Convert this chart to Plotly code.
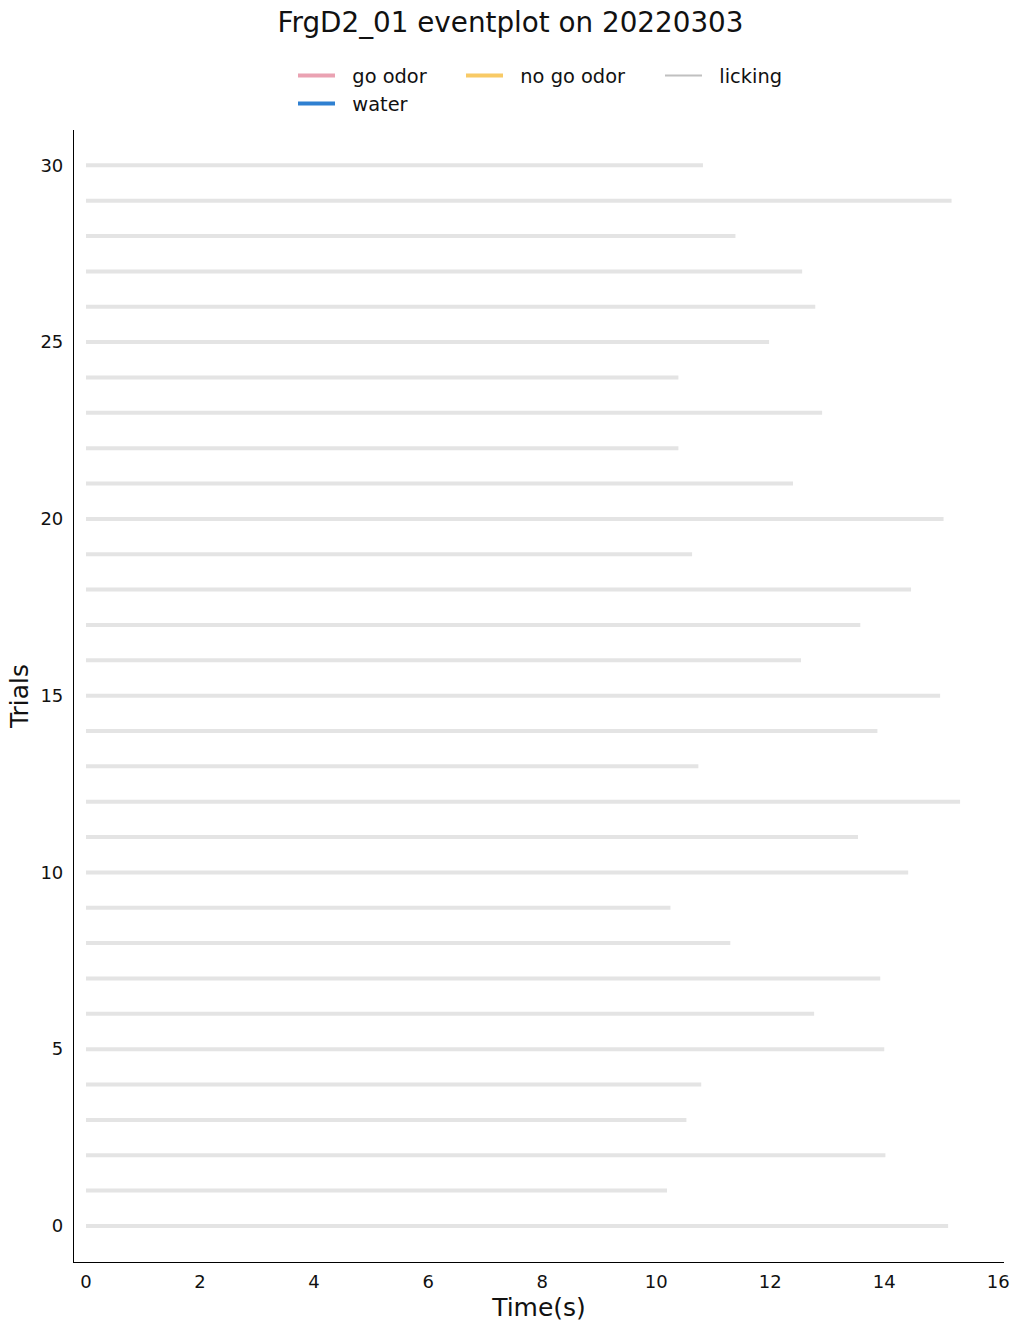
import plotly.graph_objects as go

# Data: trial index and end time (s) of licking line for each trial
trials = list(range(31))
lick_end = [15.12, 10.19, 14.02, 10.53, 10.79, 14.00, 12.77, 13.93, 11.30, 10.25,
            14.42, 13.54, 15.33, 10.74, 13.88, 14.98, 12.54, 13.58, 14.47, 10.63,
            15.04, 12.40, 10.39, 12.91, 10.39, 11.98, 12.79, 12.56, 11.39, 15.18,
            10.82]
lick_start = [0.0] * len(trials)

x_ticks = [0, 2, 4, 6, 8, 10, 12, 14, 16]
y_ticks = [0, 5, 10, 15, 20, 25, 30]

FONT = "DejaVu Sans"
C_GO = "#eaa2b2"
C_WATER = "#2f80d1"
C_NOGO = "#f8ca66"
C_LICK_LEG = "#c0c0c0"
C_LICK = "#e4e4e4"

xs, ys = [], []
for t, s, e in zip(trials, lick_start, lick_end):
    xs += [s, e, None]
    ys += [t, t, None]

PAD = "\u00a0\u00a0"

fig = go.Figure()
fig.add_trace(go.Scatter(x=xs, y=ys, mode="lines", line=dict(color=C_LICK, width=4),
                         showlegend=False, hoverinfo="skip"))

# legend entries
fig.add_trace(go.Scatter(x=[None], y=[None], mode="lines", name=PAD + "go odor",
                         line=dict(color=C_GO, width=4), legend="legend"))
fig.add_trace(go.Scatter(x=[None], y=[None], mode="lines", name=PAD + "water",
                         line=dict(color=C_WATER, width=4), legend="legend4"))
fig.add_trace(go.Scatter(x=[None], y=[None], mode="lines", name=PAD + "no go odor",
                         line=dict(color=C_NOGO, width=4), legend="legend2"))
fig.add_trace(go.Scatter(x=[None], y=[None], mode="lines", name=PAD + "licking",
                         line=dict(color=C_LICK_LEG, width=2), legend="legend3"))

W, H = 1021, 1330
L, R, T, B = 74, 17, 130, 68
pw = W - L - R
ph = H - T - B

def px_x(p):
    return (p - L) / pw

def px_y(p):
    return 1 + (T - p) / ph

leg_common = dict(font=dict(family=FONT, size=19.4, color="#111"), bgcolor="rgba(0,0,0,0)",
                  xanchor="left", yanchor="middle", orientation="v", itemwidth=37)

fig.update_layout(
    width=W, height=H,
    margin=dict(l=L, r=R, t=T, b=B, autoexpand=False),
    paper_bgcolor="white", plot_bgcolor="white",
    font=dict(family=FONT, color="#111"),
    title=dict(text="FrgD2_01 eventplot on 20220303", x=0.5, xanchor="center",
               y=1 - 22 / H, yanchor="middle", yref="container",
               font=dict(family=FONT, size=27.8, color="#111")),
    legend=dict(x=px_x(293), y=px_y(76), **leg_common),
    legend2=dict(x=px_x(461), y=px_y(76), **leg_common),
    legend3=dict(x=px_x(660), y=px_y(76), **leg_common),
    legend4=dict(x=px_x(293), y=px_y(104), **leg_common),
    xaxis=dict(range=[-0.21, 16.1], tickvals=x_ticks, ticktext=[str(v) for v in x_ticks],
               showgrid=False, zeroline=False, showline=True, linecolor="black", linewidth=1.2,
               automargin=False,
               ticks="", ticklabelstandoff=3, tickfont=dict(family=FONT, size=18, color="#111"),
               title=dict(text="Time(s)", font=dict(family=FONT, size=25, color="#111"), standoff=7)),
    yaxis=dict(range=[-1.02, 31.0], tickvals=y_ticks, ticktext=[str(v) for v in y_ticks],
               showgrid=False, zeroline=False, showline=True, linecolor="black", linewidth=1.2,
               automargin=False,
               ticks="", ticklabelstandoff=6, tickfont=dict(family=FONT, size=18, color="#111"),
               title=dict(text="Trials", font=dict(family=FONT, size=25, color="#111"), standoff=4)),
)

fig.write_html("out.html")
